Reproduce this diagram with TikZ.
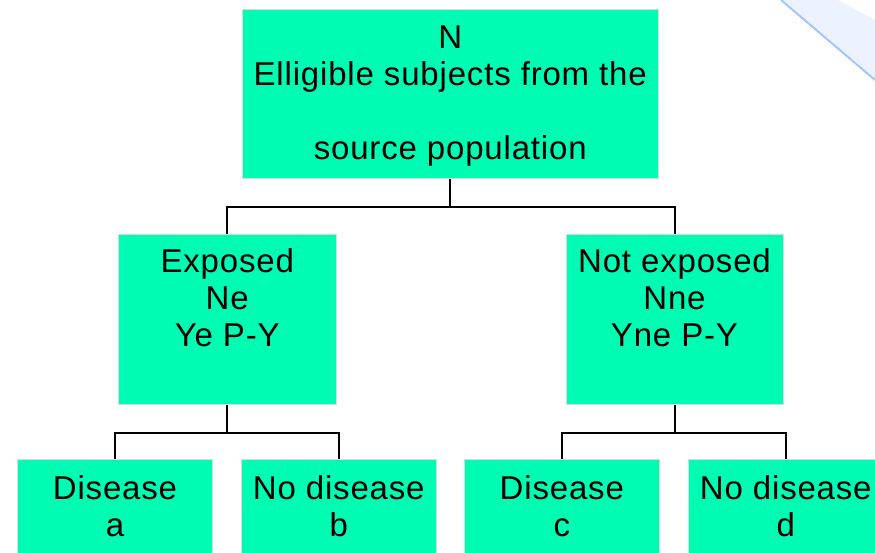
\documentclass[tikz,border=0pt]{standalone}
\usepackage{fontspec}
\setmainfont[LetterSpace=2.5]{Liberation Sans}
\usetikzlibrary{positioning}

\definecolor{boxfill}{RGB}{0,252,178}
\definecolor{boxedge}{RGB}{205,225,218}
\definecolor{decofill}{RGB}{236,243,254}
\definecolor{decoline}{RGB}{165,197,255}

\begin{document}
\begin{tikzpicture}[
            x=1pt, y=-1pt,
            box/.style={draw=boxedge, fill=boxfill, line width=0.8pt, inner sep=0pt, anchor=north},
            txt/.style={align=center, inner sep=0pt, font=\fontsize{33}{37}\selectfont},
            link/.style={line width=2pt, black}
        ]

            \path[use as bounding box] (0,0) rectangle (875,552);
            \clip (0,0) rectangle (875,552);

            % slide background corner
            \fill[decofill] (781,0) -- (875,80) -- (875,20) -- (838,0) -- cycle;
            \draw[decoline, line width=2pt] (781,0) -- (875,80);

            \pgfmathsetmacro{\drop}{28}

            % boxes
            \node[box, minimum width=415.5pt, minimum height=169.5pt] (src) at (450.25,8.5) {};
            \node[box, minimum width=217.5pt, minimum height=170pt] (exp) at (227.25,234) {};
            \node[box, minimum width=217pt, minimum height=170pt] (nexp) at (674.5,234) {};
            \node[box, minimum width=194.5pt, minimum height=120pt] (disa) at (115,459.3) {};
            \node[box, minimum width=195pt, minimum height=120pt] (nodisb) at (338.8,459.3) {};
            \node[box, minimum width=195pt, minimum height=120pt] (disc) at (561.8,459.3) {};
            \node[box, minimum width=195pt, minimum height=120pt] (nodisd) at (785.8,459.3) {};

            % texts
            \node[txt, below=17pt of src.north] (srctxt) {N\\Elligible subjects from the\\[37pt]source population};
            \node[txt, below=14pt of exp.north] (exptxt) {Exposed\\Ne\\Ye P-Y};
            \node[txt, below=14pt of nexp.north] (nexptxt) {Not exposed\\Nne\\Yne P-Y};
            \node[txt, below=16pt of disa.north] (disatxt) {Disease\\a};
            \node[txt, below=16pt of nodisb.north] (nodisbtxt) {No disease\\b};
            \node[txt, below=16pt of disc.north] (disctxt) {Disease\\c};
            \node[txt, below=16pt of nodisd.north] (nodisdtxt) {No disease\\d};

            % connectors
            \draw[link] (src.south) -- ++(0,\drop) coordinate (j0);
            \draw[link] (exp.north) |- (j0) -| (nexp.north);
            \draw[link] (exp.south) -- ++(0,\drop) coordinate (j1);
            \draw[link] (disa.north) |- (j1) -| (nodisb.north);
            \draw[link] (nexp.south) -- ++(0,\drop) coordinate (j2);
            \draw[link] (disc.north) |- (j2) -| (nodisd.north);

        \end{tikzpicture}
\end{document}
